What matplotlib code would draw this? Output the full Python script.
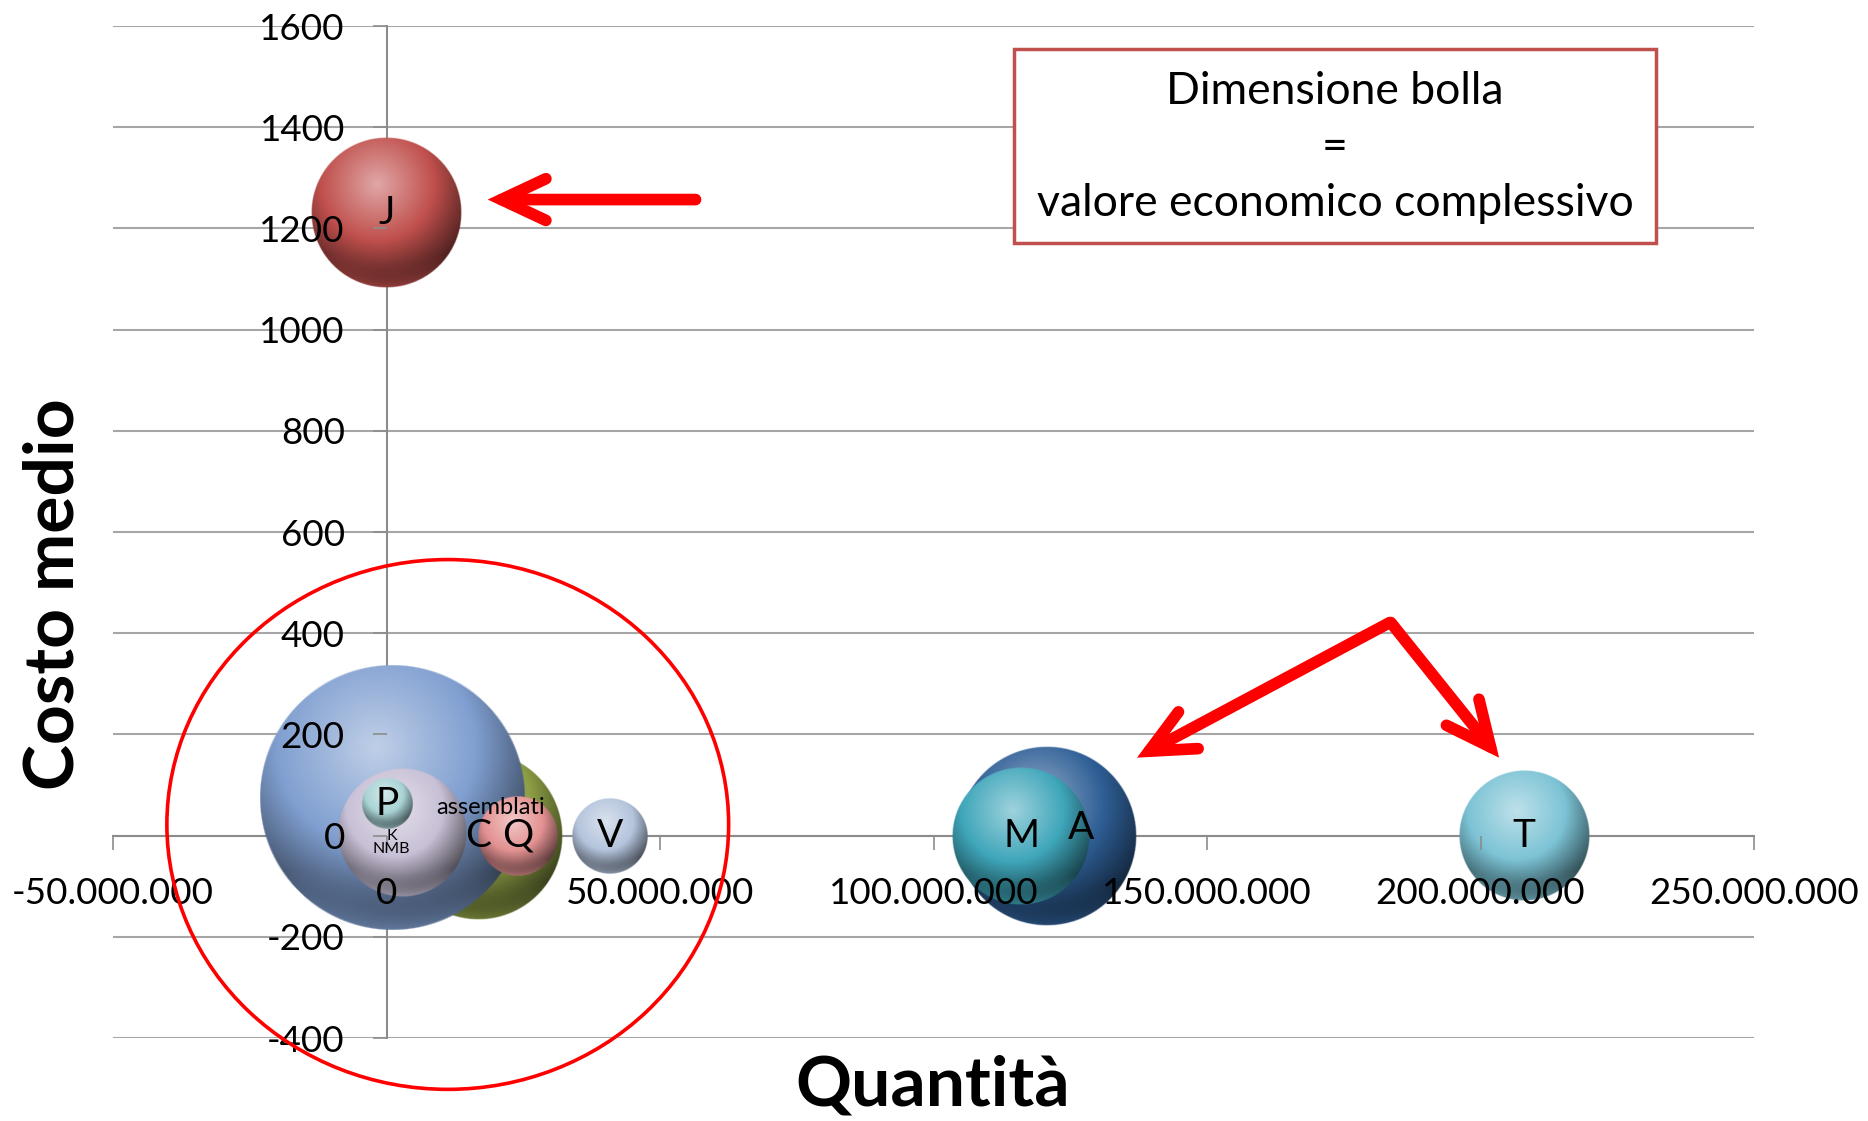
import numpy as np
import matplotlib.pyplot as plt
import matplotlib.colors as mcolors
from matplotlib.patches import Ellipse, Rectangle
from matplotlib.ticker import FuncFormatter

plt.rcParams['font.family'] = ['Lato', 'DejaVu Sans']
plt.rcParams['axes.unicode_minus'] = False

# bubble data (quantita, costo medio, valore economico = bubble area)
labels = ["C", "", "", "P", "Q", "V", "A", "M", "T", "J"]
quantita = [16.8e6, 1.1e6, 2.9e6, 0.2e6, 24e6, 40.8e6, 120.8e6, 116e6, 208e6, 0]
costo = [0, 75, 6, 63, 0, 0, 0, 0, 0, 1231]
valore = [70.6, 177, 41, 6.3, 16, 14.4, 81, 47.6, 42.9, 56.3]
colori = ["#8C9E45", "#809FD0", "#C8C0D6", "#A9D3D5", "#E39191",
          "#B4C4DC", "#2F5F96", "#3FA6BA", "#7CC3D5", "#C0504D"]

# tiny items near the origin, only their labels show
small_labels = ["K\nNMB", "assemblati"]
small_x = [0.9e6, 19e6]
small_y = [-14, 56]
small_size = [11.5, 17]

x_ticks = np.arange(-50e6, 250e6 + 1, 50e6)
y_ticks = np.arange(-400, 1601, 200)

W, H = 1868, 1121
fig = plt.figure(figsize=(W / 100, H / 100), dpi=100)
pos = [113 / W, 1 - 1038 / H, 1641 / W, 1012 / H]
ax = fig.add_axes(pos)
xmin, xmax = x_ticks[0], x_ticks[-1]
ymin, ymax = y_ticks[0], y_ticks[-1]
px_x = pos[2] * W / (xmax - xmin)
px_y = pos[3] * H / (ymax - ymin)


def sphere(color, n=260):
    base = np.array(mcolors.to_rgb(color))
    yy, xx = np.mgrid[-1:1:n * 1j, -1:1:n * 1j]
    d = np.hypot(xx, yy)
    dh = np.hypot(xx + 0.12, yy + 0.38)
    t = np.clip(1 - dh / 1.5, 0, 1)[..., None]
    light = base + (1 - base) * 0.5
    dark = base * 0.22
    rgb = np.where(t < 0.5, dark + (base - dark) * (t / 0.5),
                   base + (light - base) * ((t - 0.5) / 0.5))
    rim = (np.clip((yy - 0.55) / 0.45, 0, 1) * np.clip((d - 0.7) / 0.3, 0, 1))[..., None]
    rgb = rgb + (base * 1.05 - rgb) * rim * 0.6
    alpha = np.clip((1 - d) * n / 2.5, 0, 1)[..., None]
    return np.clip(np.concatenate([rgb, alpha], axis=2), 0, 1)


scale = 10.0  # pixel radius per sqrt(valore)
for i, (x, y, v, c) in enumerate(zip(quantita, costo, valore, colori)):
    r = scale * np.sqrt(v)
    rx, ry = r / px_x, r / px_y
    ax.imshow(sphere(c), extent=[x - rx, x + rx, y - ry, y + ry],
              aspect='auto', interpolation='bilinear', zorder=2 + i * 0.01)

label_offset = {"A": (34, 8)}
for lab, x, y in zip(labels, quantita, costo):
    if lab:
        dx, dy = label_offset.get(lab, (0, 0))
        ax.annotate(lab, (x, y), xytext=(dx * 0.72, dy * 0.72), textcoords='offset points',
                    ha='center', va='center', fontsize=28, zorder=10)
for lab, x, y, fs in zip(small_labels, small_x, small_y, small_size):
    ax.text(x, y, lab, ha='center', va='center', fontsize=fs, linespacing=0.95, zorder=10)

for yv in y_ticks:
    ax.axhline(yv, color='#A6A6A6', lw=1.5, zorder=0.5)

ax.set_xlim(xmin, xmax)
ax.set_ylim(ymin, ymax)
ax.set_xticks(x_ticks)
ax.set_yticks(y_ticks)
ax.xaxis.set_major_formatter(FuncFormatter(lambda v, p: f"{int(v):,}".replace(",", ".")))
for s in ['top', 'right']:
    ax.spines[s].set_visible(False)
for s in ['left', 'bottom']:
    ax.spines[s].set_position(('data', 0))
    ax.spines[s].set_color('#8C8C8C')
    ax.spines[s].set_linewidth(1.5)
    ax.spines[s].set_zorder(0.6)
ax.tick_params(axis='both', direction='out', length=10, width=1.2, color='#8C8C8C',
               labelsize=26.5, pad=20)
ax.xaxis.set_zorder(5)
ax.yaxis.set_zorder(5)
ax.set_facecolor('none')

# annotations
arrow = dict(arrowstyle='->,head_length=1.6,head_width=0.75', color='red', lw=8.4,
             capstyle='round', joinstyle='miter', mutation_scale=20, shrinkA=0, shrinkB=0)
ax.annotate("", xy=(18.5e6, 1257), xytext=(56.5e6, 1257), arrowprops=arrow, zorder=20)
ax.annotate("", xy=(137.2e6, 154), xytext=(183.4e6, 421), arrowprops=arrow, zorder=20)
ax.annotate("", xy=(203.4e6, 154), xytext=(183.6e6, 421), arrowprops=arrow, zorder=20)
ax.add_patch(Ellipse((11.2e6, 22), 102.7e6, 1047, fill=False, ec='red', lw=2.6,
                     zorder=20, clip_on=False))

ax.add_patch(Rectangle((114.8e6, 1172), 117.2e6, 383, fc='white', ec='#C0504D', lw=2.5, zorder=15))
ax.text(173.4e6, 1360, "Dimensione bolla\n=\nvalore economico complessivo",
        ha='center', va='center', fontsize=32, linespacing=1.45, zorder=16)

fig.text(0.4995, 0.031, "Quantità", ha='center', va='center', fontsize=50, fontweight='bold')
fig.text(0.029, 0.470, "Costo medio", ha='center', va='center', rotation=90,
         fontsize=50, fontweight='bold')

fig.savefig("out.png", dpi=100)
